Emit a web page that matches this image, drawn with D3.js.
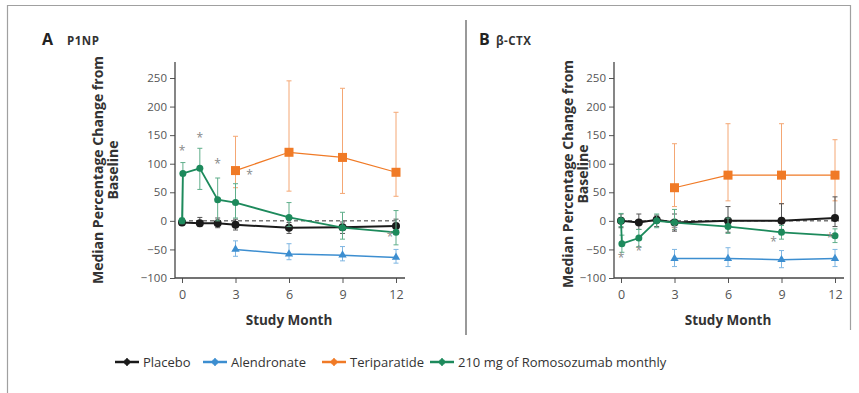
<!DOCTYPE html>
<html>
<head>
<meta charset="utf-8">
<script src="https://cdn.jsdelivr.net/npm/d3@7"></script>
<style>
  body { margin: 0; background: #fff; }
  svg { display: block; font-family: "Open Sans", "Liberation Sans", sans-serif; }
</style>
</head>
<body>
<svg id="chart"></svg>
<script>
// months
const months = [0, 1, 2, 3, 6, 9, 12];
const monthsRomo = [0, 0.05, 1, 2, 3, 6, 9, 12];
const monthsActive = [3, 6, 9, 12];
const xTicks = [0, 3, 6, 9, 12];
const yTicks = [-100, -50, 0, 50, 100, 150, 200, 250];

// panel A - P1NP (median, lower, upper)
const placeboP1NP = [-3, -4, -4, -7, -12, -11, -9];
const placeboP1NPLo = [-8, -10, -12, -16, -22, -22, -20];
const placeboP1NPHi = [4, 6, 5, 3, -3, -2, 3];
const alendronateP1NP = [-50, -58, -60, -64];
const alendronateP1NPLo = [-62, -68, -70, -74];
const alendronateP1NPHi = [-35, -40, -45, -50];
const teriparatideP1NP = [88, 120, 111, 85];
const teriparatideP1NPLo = [58, 52, 48, 43];
const teriparatideP1NPHi = [148, 245, 232, 190];
const romoP1NP = [0, 83, 92, 37, 32, 6, -12, -20];
const romoP1NPLo = [-5, 0, 55, 0, 5, -10, -32, -42];
const romoP1NPHi = [5, 102, 127, 75, 65, 32, 15, 18];

// panel B - beta-CTX
const placeboCTX = [0, -3, 2, -3, 0, 0, 5];
const placeboCTXLo = [-12, -15, -10, -18, -20, -15, -10];
const placeboCTXHi = [12, 12, 10, 12, 25, 30, 42];
const alendronateCTX = [-66, -66, -68, -66];
const alendronateCTXLo = [-80, -80, -82, -80];
const alendronateCTXHi = [-50, -47, -52, -50];
const teriparatideCTX = [58, 80, 80, 80];
const teriparatideCTXLo = [25, 35, 30, 35];
const teriparatideCTXHi = [135, 170, 170, 142];
const romoCTX = [0, -40, -30, 0, -3, -10, -20, -26];
const romoCTXLo = [-10, -55, -45, -12, -15, -22, -32, -38];
const romoCTXHi = [13, -25, -15, 12, 20, 5, -8, -14];

// significance marks
const starsP1NPMonth = [0, 1, 2, 3, 12];
const starsP1NPValue = [122, 145, 100, 80, -28];
const starsCTXMonth = [0, 1, 3, 9, 12];
const starsCTXValue = [-65, -52, -17, -37, -30];

const legendNames = ["Placebo", "Alendronate", "Teriparatide", "210 mg of Romosozumab monthly"];
const legendColors = ["#1a1a1a", "#3c8ed0", "#f07a26", "#1d8a5c"];

const width = 859;
const height = 393;
let svg = d3.select("#chart").attr("width", width).attr("height", height);

// frame
svg.append("path")
    .attr("d", "M7.5,393 V5.5 H850.5 V330")
    .attr("fill", "none")
    .attr("stroke", "#a0a0a0")
    .attr("stroke-width", 1.2);

// divider
svg.append("line")
    .attr("x1", 466).attr("x2", 466).attr("y1", 20).attr("y2", 335)
    .attr("stroke", "#999").attr("stroke-width", 2);

function drawPanel(cfg) {
    const scX = d3.scaleLinear().domain([0, 12]).range([cfg.x0, cfg.x1]);
    const scY = d3.scaleLinear().domain([-100, 250]).range([278, 78]);
    const g = svg.append("g");

    // axes
    let axisY = d3.axisLeft(scY).tickValues(yTicks).tickSize(5).tickSizeOuter(0);
    let gy = g.append("g").attr("transform", `translate(${cfg.axisX}, 0)`).call(axisY);
    gy.select(".domain").remove();
    gy.selectAll("text").attr("font-size", 11.5).attr("fill", "#555").attr("font-family", "Open Sans, sans-serif");
    gy.selectAll("line").attr("stroke", "#555");

    let axisX = d3.axisBottom(scX).tickValues(xTicks).tickSize(5).tickSizeOuter(0);
    let gx = g.append("g").attr("transform", `translate(0, 278)`).call(axisX);
    gx.select(".domain").remove();
    gx.selectAll("text").attr("font-size", 12.5).attr("fill", "#555").attr("dy", "1em").attr("font-family", "Open Sans, sans-serif");
    gx.selectAll("line").attr("stroke", "#555");

    g.append("line").attr("x1", cfg.axisX).attr("x2", cfg.axisX).attr("y1", 62).attr("y2", 278)
        .attr("stroke", "#444").attr("stroke-width", 1.3);
    g.append("line").attr("x1", cfg.axisX).attr("x2", cfg.x1 + 9).attr("y1", 278).attr("y2", 278)
        .attr("stroke", "#444").attr("stroke-width", 1.3);

    // zero line
    g.append("line")
        .attr("x1", scX(0)).attr("x2", scX(12) + 4)
        .attr("y1", scY(0)).attr("y2", scY(0))
        .attr("stroke", "#333").attr("stroke-dasharray", "4,3").attr("stroke-width", 1);

    // titles
    g.append("text").attr("x", cfg.titleX).attr("y", 45)
        .attr("font-size", 16).attr("font-weight", "bold").attr("fill", "#222").text(cfg.letter);
    g.append("text").attr("x", cfg.titleX + cfg.nameDx).attr("y", 45)
        .attr("font-size", 11.5).attr("font-weight", "bold").attr("fill", "#333")
        .attr("letter-spacing", 0.5)
        .text(cfg.name);

    let yl = g.append("text")
        .attr("transform", `translate(${cfg.labelX}, ${cfg.labelY}) rotate(-90)`)
        .attr("text-anchor", "middle").attr("font-size", 14).attr("font-weight", "bold").attr("fill", "#333");
    yl.append("tspan").attr("x", 0).attr("dy", 0).text("Median Percentage Change from");
    yl.append("tspan").attr("x", 0).attr("dy", 15).text("Baseline");

    g.append("text").attr("x", (cfg.x0 + cfg.x1) / 2).attr("y", 325)
        .attr("text-anchor", "middle").attr("font-size", 13.5).attr("font-weight", "bold").attr("fill", "#333")
        .text("Study Month");

    // series
    cfg.series.forEach((s) => {
        const pts = s.x.map((m, i) => ({ m: m, v: s.v[i], lo: s.lo[i], hi: s.hi[i] }));
        // error bars
        pts.forEach((p) => {
            g.append("line").attr("x1", scX(p.m)).attr("x2", scX(p.m))
                .attr("y1", scY(p.lo)).attr("y2", scY(p.hi))
                .attr("stroke", s.light).attr("stroke-width", 1);
            [p.lo, p.hi].forEach((e) => {
                g.append("line").attr("x1", scX(p.m) - 2.5).attr("x2", scX(p.m) + 2.5)
                    .attr("y1", scY(e)).attr("y2", scY(e))
                    .attr("stroke", s.light).attr("stroke-width", 1);
            });
        });
        const line = d3.line().x(d => scX(d.m)).y(d => scY(d.v));
        g.append("path").datum(pts).attr("d", line)
            .attr("fill", "none").attr("stroke", s.color).attr("stroke-width", s.width);
        pts.forEach((p) => {
            if (s.shape === "square") {
                g.append("rect").attr("x", scX(p.m) - 4.5).attr("y", scY(p.v) - 4.5)
                    .attr("width", 9).attr("height", 9).attr("fill", s.color);
            } else if (s.shape === "triangle") {
                g.append("path").attr("d", d3.symbol(d3.symbolTriangle, 30)())
                    .attr("transform", `translate(${scX(p.m)}, ${scY(p.v)})`).attr("fill", s.color);
            } else {
                g.append("circle").attr("cx", scX(p.m)).attr("cy", scY(p.v)).attr("r", s.r)
                    .attr("fill", s.color);
            }
        });
    });

    // stars
    cfg.starM.forEach((m, i) => {
        g.append("text").attr("x", scX(m) + (cfg.starDx[i] || 0)).attr("y", scY(cfg.starV[i]) + 4)
            .attr("text-anchor", "middle").attr("font-size", 12).attr("fill", "#888").text("*");
    });
}

function seriesSet(pl, plLo, plHi, al, alLo, alHi, te, teLo, teHi, ro, roLo, roHi) {
    return [
        { x: monthsActive, v: te, lo: teLo, hi: teHi, color: "#f07a26", light: "#f4a774", shape: "square", width: 1.2 },
        { x: monthsActive, v: al, lo: alLo, hi: alHi, color: "#3c8ed0", light: "#7fb6e2", shape: "triangle", width: 1.5 },
        { x: months, v: pl, lo: plLo, hi: plHi, color: "#1a1a1a", light: "#555", shape: "circle", r: 4, width: 2 },
        { x: monthsRomo, v: ro, lo: roLo, hi: roHi, color: "#1d8a5c", light: "#5fae8a", shape: "circle", r: 3.5, width: 1.8 }
    ];
}

drawPanel({
    letter: "A", name: "P1NP", titleX: 42, nameDx: 25,
    x0: 182, x1: 396, axisX: 175, labelX: 103, labelY: 170,
    series: seriesSet(placeboP1NP, placeboP1NPLo, placeboP1NPHi, alendronateP1NP, alendronateP1NPLo, alendronateP1NPHi,
        teriparatideP1NP, teriparatideP1NPLo, teriparatideP1NPHi, romoP1NP, romoP1NPLo, romoP1NPHi),
    starM: starsP1NPMonth, starV: starsP1NPValue, starDx: [0, 0, 0, 14, -6]
});

drawPanel({
    letter: "B", name: "\u03b2-CTX", titleX: 479, nameDx: 17,
    x0: 621, x1: 835, axisX: 614, labelX: 573, labelY: 174,
    series: seriesSet(placeboCTX, placeboCTXLo, placeboCTXHi, alendronateCTX, alendronateCTXLo, alendronateCTXHi,
        teriparatideCTX, teriparatideCTXLo, teriparatideCTXHi, romoCTX, romoCTXLo, romoCTXHi),
    starM: starsCTXMonth, starV: starsCTXValue, starDx: [0, 0, 0, -8, -5]
});

// legend
let legendX = [115, 203, 322, 430];
legendNames.forEach((name, i) => {
    let lg = svg.append("g").attr("transform", `translate(${legendX[i]}, 362)`);
    lg.append("line").attr("x1", 0).attr("x2", 24).attr("y1", 0).attr("y2", 0)
        .attr("stroke", legendColors[i]).attr("stroke-width", 2.5);
    lg.append("line").attr("x1", 12).attr("x2", 12).attr("y1", -4).attr("y2", 4)
        .attr("stroke", legendColors[i]).attr("stroke-width", 1.5);
    lg.append("circle").attr("cx", 12).attr("cy", 0).attr("r", 3).attr("fill", legendColors[i]);
    lg.append("text").attr("x", 28).attr("y", 5).attr("font-size", 13).attr("fill", "#333").text(name);
});
</script>
</body>
</html>
